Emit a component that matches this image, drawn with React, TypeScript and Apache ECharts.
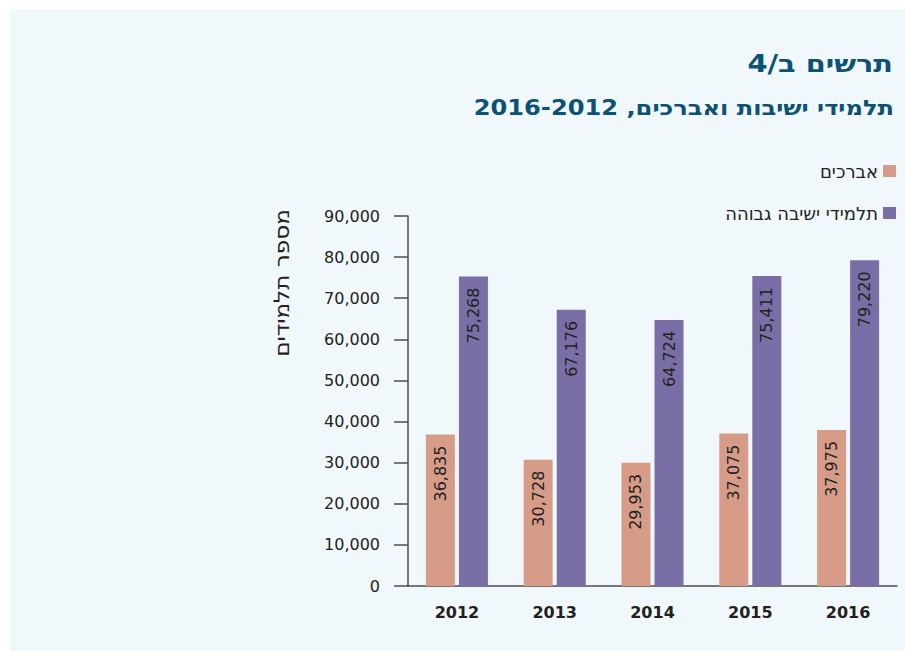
import React, { useEffect, useRef } from "react";
import * as echarts from "echarts";

const years = ["2012", "2013", "2014", "2015", "2016"];
const avrechim = [36835, 30728, 29953, 37075, 37975];
const yeshivaGvoha = [75268, 67176, 64724, 75411, 79220];
const seriesNames = ["אברכים", "תלמידי ישיבה גבוהה"];
const titleText = "תרשים ב/4";
const subtitleText = "תלמידי ישיבות ואברכים, 2016-2012";
const yAxisName = "מספר תלמידים";

const FONT = "'DejaVu Sans', sans-serif";
const TEXT = "#231f20";
const fmt = (v: number) => v.toLocaleString("en-US");

export default function App() {
  const ref = useRef<HTMLDivElement>(null);
  useEffect(() => {
    if (!ref.current) return;
    const chart = echarts.init(ref.current, undefined, { renderer: "svg" });
    const label = {
      show: true,
      position: "insideTop",
      rotate: 90,
      align: "right",
      verticalAlign: "middle",
      distance: 11,
      color: TEXT,
      fontSize: 16,
      fontFamily: FONT,
      formatter: (p: any) => fmt(p.value),
    };
    chart.setOption({
      animation: false,
      backgroundColor: "#ffffff",
      textStyle: { fontFamily: FONT },
      graphic: [
        { type: "rect", shape: { x: 10, y: 9, width: 895, height: 642 }, style: { fill: "#f0f8fb" }, z: -10 },
        {
          type: "text", x: 893, y: 63, scaleX: 1.2,
          style: { text: titleText, align: "right", verticalAlign: "middle", fontSize: 24, fontWeight: "bold", fill: "#0d5174", fontFamily: FONT },
        },
        {
          type: "text", x: 894, y: 108, scaleX: 1.15,
          style: { text: subtitleText, align: "right", verticalAlign: "middle", fontSize: 21, fontWeight: "bold", fill: "#0d5174", fontFamily: FONT },
        },
        {
          type: "text", x: 282, y: 283, rotation: Math.PI / 2, scaleX: 1.1,
          style: { text: yAxisName, align: "center", verticalAlign: "middle", fontSize: 21, fill: TEXT, fontFamily: FONT },
        },
      ],
      legend: {
        orient: "vertical",
        right: 9,
        top: 162,
        padding: 0,
        align: "right",
        itemWidth: 13,
        itemHeight: 12,
        itemGap: 24,
        icon: "rect",
        textStyle: { fontSize: 18, color: TEXT, fontFamily: FONT },
        data: seriesNames,
      },
      grid: { left: 408, top: 216, width: 489, height: 370, containLabel: false },
      xAxis: {
        type: "category",
        data: years,
        boundaryGap: true,
        axisLine: { lineStyle: { color: "#4d4d4d", width: 1.5 } },
        axisTick: { inside: true, length: 13, lineStyle: { color: "#4d4d4d", width: 1.5 } },
        axisLabel: { margin: 18, fontSize: 16, fontWeight: "bold", color: TEXT, fontFamily: FONT },
      },
      yAxis: {
        type: "value",
        min: 0,
        max: 90000,
        interval: 10000,
        splitLine: { show: false },
        axisLine: { show: true, lineStyle: { color: "#4d4d4d", width: 1.5 } },
        axisTick: { show: true, length: 14, lineStyle: { color: "#4d4d4d", width: 1.5 } },
        axisLabel: { margin: 28, fontSize: 16, color: TEXT, fontFamily: FONT, formatter: (v: number) => fmt(v) },
      },
      series: [
        { name: seriesNames[0], type: "bar", data: avrechim, barWidth: 29, barGap: "14%", itemStyle: { color: "#d69c88" }, label },
        { name: seriesNames[1], type: "bar", data: yeshivaGvoha, barWidth: 29, barGap: "14%", itemStyle: { color: "#7a6ea6" }, label },
      ],
    });
    return () => chart.dispose();
  }, []);
  return (
    <div style={{ position: "fixed", left: 0, top: 0, width: 905, height: 651, background: "#fff" }}>
      <div ref={ref} style={{ width: 905, height: 651 }} />
    </div>
  );
}
